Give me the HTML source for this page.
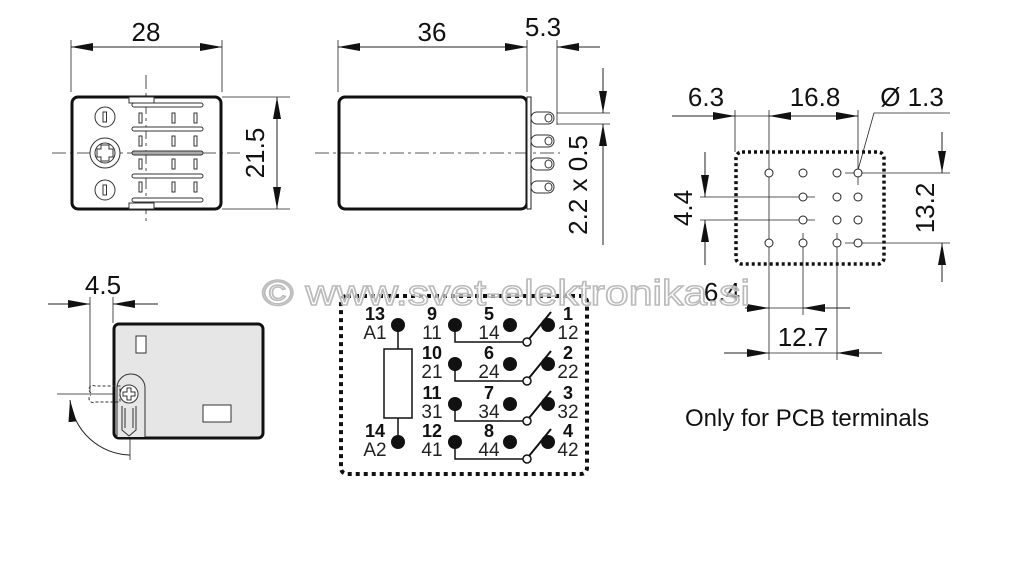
<!DOCTYPE html>
<html><head><meta charset="utf-8"><style>
html,body{margin:0;padding:0;background:#fff;}
svg{display:block;font-family:"Liberation Sans",sans-serif;}
.t{font-size:26px;fill:#111;}
.s{font-size:19px;fill:#222;}
.b{font-size:18px;font-weight:bold;fill:#111;}
</style></head><body>
<svg width="1024" height="587" viewBox="0 0 1024 587" xmlns="http://www.w3.org/2000/svg">
<defs>
<marker id="a" viewBox="0 0 22 8" refX="22" refY="4" markerWidth="22" markerHeight="8" markerUnits="userSpaceOnUse" orient="auto-start-reverse"><path d="M0,0L22,4L0,8z" fill="#111"/></marker>
</defs>
<g stroke="#222" stroke-width="0.8" fill="none">
<line x1="71" y1="40" x2="71" y2="92"/><line x1="222" y1="40" x2="222" y2="92"/>
<line x1="71" y1="47" x2="222" y2="47" marker-start="url(#a)" marker-end="url(#a)" stroke-width="1"/>
<line x1="52" y1="153" x2="240" y2="153" stroke-dasharray="14,4,3,4"/>
<line x1="146" y1="75" x2="146" y2="225" stroke-dasharray="14,4,3,4"/>
<line x1="222" y1="97" x2="290" y2="97"/><line x1="222" y1="209" x2="290" y2="209"/>
<line x1="277" y1="97" x2="277" y2="209" marker-start="url(#a)" marker-end="url(#a)" stroke-width="1"/>
</g>
<rect x="72" y="97" width="149" height="112" rx="6" fill="none" stroke="#111" stroke-width="3"/>
<g stroke="#333" stroke-width="1" fill="#fff">
<circle cx="105" cy="117" r="10"/><circle cx="105" cy="190" r="10"/>
<circle cx="105" cy="153" r="15"/><circle cx="105" cy="153" r="10"/>
<path d="M101,147h8v4h4v8h-4v4h-8v-4h-4v-8h4z" transform="translate(0,-2)"/>
<rect x="103" y="112" width="3.5" height="10"/><rect x="103" y="185" width="3.5" height="10"/>
<rect x="129" y="97" width="25" height="6"/><rect x="129" y="203" width="25" height="6"/>
<rect x="132" y="103" width="71" height="4" rx="2"/><rect x="132" y="127" width="71" height="4" rx="2"/>
<rect x="132" y="151" width="71" height="4" rx="2" fill="#aaa"/><rect x="132" y="174" width="71" height="4" rx="2"/>
<rect x="132" y="198" width="71" height="4" rx="2"/>
<rect x="139" y="113" width="3" height="10"/><rect x="172" y="113" width="3" height="10"/><rect x="194" y="113" width="3" height="10"/>
<rect x="139" y="136" width="3" height="10"/><rect x="172" y="136" width="3" height="10"/><rect x="194" y="136" width="3" height="10"/>
<rect x="139" y="159" width="3" height="10"/><rect x="172" y="159" width="3" height="10"/><rect x="194" y="159" width="3" height="10"/>
<rect x="139" y="182" width="3" height="10"/><rect x="172" y="182" width="3" height="10"/><rect x="194" y="182" width="3" height="10"/>
</g>
<text class="t" x="146" y="41" text-anchor="middle">28</text>
<text class="t" transform="translate(264,153) rotate(-90)" text-anchor="middle">21.5</text>

<g stroke="#222" stroke-width="0.8" fill="none">
<line x1="338" y1="40" x2="338" y2="92"/><line x1="527" y1="40" x2="527" y2="92"/><line x1="557" y1="40" x2="557" y2="125"/>
<line x1="338" y1="47" x2="527" y2="47" marker-start="url(#a)" marker-end="url(#a)" stroke-width="1"/>
<line x1="557" y1="47" x2="600" y2="47" marker-start="url(#a)" stroke-width="1"/>
<line x1="315" y1="153" x2="560" y2="153" stroke-dasharray="14,4,3,4"/>
<line x1="557" y1="113" x2="610" y2="113"/><line x1="557" y1="124" x2="610" y2="124"/>
<line x1="603" y1="68" x2="603" y2="113" marker-end="url(#a)" stroke-width="1"/>
<line x1="603" y1="245" x2="603" y2="124" marker-end="url(#a)" stroke-width="1"/>
</g>
<rect x="339" y="97" width="188" height="112" rx="6" fill="none" stroke="#111" stroke-width="3"/>
<rect x="527" y="97" width="4" height="112" fill="#fff" stroke="#222" stroke-width="1"/>
<g stroke="#333" stroke-width="1" fill="#fff">
<rect x="531" y="112" width="23" height="12" rx="6"/><rect x="545" y="114" width="7" height="8" rx="4"/>
<rect x="531" y="135" width="23" height="12" rx="6"/><rect x="545" y="137" width="7" height="8" rx="4"/>
<rect x="531" y="158" width="23" height="12" rx="6"/><rect x="545" y="160" width="7" height="8" rx="4"/>
<rect x="531" y="181" width="23" height="12" rx="6"/><rect x="545" y="183" width="7" height="8" rx="4"/>
</g>
<text class="t" x="432" y="41" text-anchor="middle">36</text>
<text class="t" x="543" y="36" text-anchor="middle">5.3</text>
<text class="t" transform="translate(587,185) rotate(-90)" text-anchor="middle">2.2 x 0.5</text>

<rect x="736" y="152" width="148" height="112" rx="6" fill="none" stroke="#111" stroke-width="3.5" stroke-dasharray="3,3"/>
<g stroke="#222" stroke-width="0.8" fill="none">
<line x1="672" y1="116" x2="735" y2="116" marker-end="url(#a)" stroke-width="1"/>
<line x1="769" y1="116" x2="858" y2="116" marker-start="url(#a)" marker-end="url(#a)" stroke-width="1"/>
<line x1="735" y1="116" x2="769" y2="116"/>
<line x1="735" y1="110" x2="735" y2="152"/><line x1="769" y1="110" x2="769" y2="360"/><line x1="858" y1="110" x2="858" y2="185"/>
<polyline points="858,170 874,113 950,113"/>
<line x1="700" y1="197" x2="815" y2="197"/><line x1="700" y1="220" x2="815" y2="220"/>
<line x1="705" y1="152" x2="705" y2="197" marker-end="url(#a)" stroke-width="1"/>
<line x1="705" y1="265" x2="705" y2="220" marker-end="url(#a)" stroke-width="1"/>
<line x1="845" y1="173" x2="950" y2="173"/><line x1="845" y1="243" x2="950" y2="243"/>
<line x1="942" y1="132" x2="942" y2="173" marker-end="url(#a)" stroke-width="1"/>
<line x1="942" y1="282" x2="942" y2="243" marker-end="url(#a)" stroke-width="1"/>
<line x1="803" y1="233" x2="803" y2="315"/><line x1="837" y1="233" x2="837" y2="360"/>
<line x1="745" y1="308" x2="769" y2="308" marker-end="url(#a)" stroke-width="1"/>
<line x1="850" y1="308" x2="803" y2="308" marker-end="url(#a)" stroke-width="1"/>
<line x1="769" y1="308" x2="803" y2="308"/>
<line x1="724" y1="353" x2="769" y2="353" marker-end="url(#a)" stroke-width="1"/>
<line x1="882" y1="353" x2="837" y2="353" marker-end="url(#a)" stroke-width="1"/>
<line x1="769" y1="353" x2="837" y2="353"/>
</g>
<g stroke="#222" stroke-width="1" fill="#fff">
<circle cx="769" cy="173" r="4"/><circle cx="803" cy="173" r="4"/><circle cx="837" cy="173" r="4"/><circle cx="858" cy="173" r="4"/>
<circle cx="803" cy="197" r="4"/><circle cx="837" cy="197" r="4"/><circle cx="858" cy="197" r="4"/>
<circle cx="803" cy="220" r="4"/><circle cx="837" cy="220" r="4"/><circle cx="858" cy="220" r="4"/>
<circle cx="769" cy="243" r="4"/><circle cx="803" cy="243" r="4"/><circle cx="837" cy="243" r="4"/><circle cx="858" cy="243" r="4"/>
</g>
<text class="t" x="706" y="106" text-anchor="middle">6.3</text>
<text class="t" x="815" y="106" text-anchor="middle">16.8</text>
<text class="t" x="912" y="106" text-anchor="middle">Ø 1.3</text>
<text class="t" transform="translate(692,208) rotate(-90)" text-anchor="middle">4.4</text>
<text class="t" transform="translate(934,208) rotate(-90)" text-anchor="middle">13.2</text>
<text class="t" x="722" y="301" text-anchor="middle">6.4</text>
<text class="t" x="803" y="346" text-anchor="middle">12.7</text>
<text x="685" y="426" style="font-size:24px;fill:#111">Only for PCB terminals</text>

<g stroke="#222" stroke-width="0.8" fill="none">
<line x1="48" y1="304" x2="90" y2="304" marker-end="url(#a)" stroke-width="1"/>
<line x1="158" y1="304" x2="113" y2="304" marker-end="url(#a)" stroke-width="1"/>
<line x1="90" y1="297" x2="90" y2="392"/><line x1="113" y1="297" x2="113" y2="323"/>
<line x1="57" y1="394" x2="150" y2="394"/><line x1="130" y1="372" x2="130" y2="460"/>
<path d="M130,455 A62,62 0 0 1 70,400" marker-end="url(#a)" stroke-width="1"/>
</g>
<rect x="114" y="324" width="149" height="114" rx="5" fill="#e6e6e6" stroke="#111" stroke-width="3"/>
<g stroke="#333" stroke-width="1" fill="#fff">
<rect x="136" y="336" width="10" height="17"/><rect x="203" y="405" width="28" height="17"/>
<path d="M117,437V388a14,14 0 0 1 28,0V437" fill="#e6e6e6"/>
<path d="M91,393a4,4 0 0 1 4,-7H120V402H95a4,4 0 0 1 -4,-7" stroke-dasharray="3,2" fill="none"/>
<circle cx="129" cy="394" r="9"/>
<path d="M127,388h4v4h4v4h-4v4h-4v-4h-4v-4h4z"/>
<path d="M122,406V430l7,6l7,-6V406" fill="none"/><path d="M125,408V428M133,408V428" fill="none"/>
</g>
<text class="t" x="103" y="294" text-anchor="middle">4.5</text>

<rect x="341" y="296" width="246" height="178" rx="6" fill="none" stroke="#111" stroke-width="4" stroke-dasharray="4,4"/>
<g stroke="#111" stroke-width="1.5" fill="none">
<line x1="398" y1="325" x2="398" y2="349"/><line x1="398" y1="418" x2="398" y2="442"/>
<rect x="384" y="349" width="28" height="69" fill="#fff"/>
</g>
<g fill="#111"><circle cx="398" cy="325" r="7"/><circle cx="398" cy="442" r="7"/></g>
<g id="row">
<polyline points="455,325 455,342 524,342" stroke="#111" stroke-width="1.5" fill="none"/>
<line x1="529" y1="339" x2="551" y2="312" stroke="#111" stroke-width="2"/>
<circle cx="455" cy="325" r="7" fill="#111"/><circle cx="510" cy="325" r="7" fill="#111"/><circle cx="548" cy="325" r="7" fill="#111"/>
<circle cx="527" cy="342" r="4" fill="#fff" stroke="#111" stroke-width="1.5"/>
</g>
<use href="#row" y="39"/><use href="#row" y="79"/><use href="#row" y="117"/>
<g text-anchor="middle">
<text class="b" x="375" y="320">13</text><text class="s" x="375" y="339">A1</text>
<text class="b" x="375" y="437">14</text><text class="s" x="375" y="456">A2</text>
<text class="b" x="432" y="320">9</text><text class="s" x="432" y="339">11</text>
<text class="b" x="432" y="359">10</text><text class="s" x="432" y="378">21</text>
<text class="b" x="432" y="399">11</text><text class="s" x="432" y="418">31</text>
<text class="b" x="432" y="437">12</text><text class="s" x="432" y="456">41</text>
<text class="b" x="489" y="320">5</text><text class="s" x="489" y="339">14</text>
<text class="b" x="489" y="359">6</text><text class="s" x="489" y="378">24</text>
<text class="b" x="489" y="399">7</text><text class="s" x="489" y="418">34</text>
<text class="b" x="489" y="437">8</text><text class="s" x="489" y="456">44</text>
<text class="b" x="568" y="320">1</text><text class="s" x="568" y="339">12</text>
<text class="b" x="568" y="359">2</text><text class="s" x="568" y="378">22</text>
<text class="b" x="568" y="399">3</text><text class="s" x="568" y="418">32</text>
<text class="b" x="568" y="437">4</text><text class="s" x="568" y="456">42</text>
</g>
<text x="262" y="305" style="font-size:36px;fill:#fff;fill-opacity:0.55;stroke:#bbb;stroke-width:1.5" textLength="488" lengthAdjust="spacingAndGlyphs">© www.svet-elektronika.si</text>
</svg>
</body></html>
